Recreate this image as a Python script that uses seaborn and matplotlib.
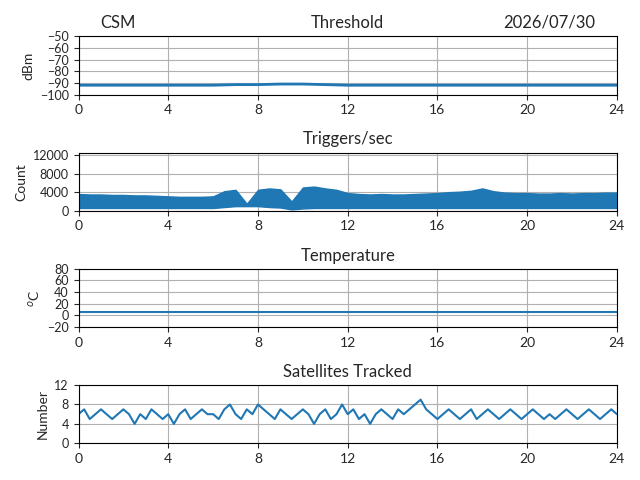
import numpy as np
import matplotlib
matplotlib.use("Agg")
import matplotlib.pyplot as plt
import seaborn as sns

sns.set_style("ticks")
plt.rcParams['font.family'] = ['Lato', 'DejaVu Sans']
plt.rcParams['mathtext.fontset'] = 'dejavusans'
plt.rcParams['axes.unicode_minus'] = True
plt.rcParams['ytick.labelsize'] = 9
plt.rcParams['xtick.labelsize'] = 10

# threshold (dBm), hourly
thr_hours = list(range(25))
thr_vals = [-92, -92, -92, -92, -92, -92, -92, -91.5, -91.5, -91, -91, -91.5, -92, -92, -92,
            -92, -92, -92, -92, -92, -92, -92, -92, -92, -92]

# triggers/sec envelope, every half hour
trig_hours = [i * 0.5 for i in range(49)]
trig_high = [3600, 3500, 3500, 3400, 3400, 3300, 3300, 3200, 3100, 3000, 3000, 3000, 3100,
             4200, 4500, 1500, 4500, 4800, 4600, 2000, 5000, 5200, 4800, 4500, 3800, 3600,
             3500, 3600, 3500, 3500, 3600, 3700, 3800, 4000, 4100, 4300, 4800, 4200, 3900,
             3800, 3800, 3700, 3700, 3800, 3700, 3800, 3800, 3900, 3900]
trig_low = [600, 600, 600, 600, 600, 600, 600, 600, 600, 600, 600, 600, 600,
            800, 1000, 1000, 1000, 800, 700, 300, 500, 600, 600, 600, 600, 600,
            600, 600, 600, 600, 600, 600, 600, 600, 600, 600, 600, 600, 600,
            600, 600, 600, 600, 600, 600, 600, 600, 600, 600]

# temperature (C), hourly
temp_hours = list(range(25))
temp_vals = [5] * 25

# satellites tracked, every quarter hour
sat_hours = [i * 0.25 for i in range(97)]
sat_vals = [6, 7, 5, 6, 7, 6, 5, 6, 7, 6, 4, 6, 5, 7, 6, 5, 6, 4, 6, 7, 5, 6, 7, 6, 6,
            5, 7, 8, 6, 5, 7, 6, 8, 7, 6, 5, 7, 6, 5, 6, 7, 6, 4, 6, 7, 5, 6, 8, 6,
            7, 5, 6, 4, 6, 7, 6, 5, 7, 6, 7, 8, 9, 7, 6, 5, 6, 7, 6, 5, 6, 7, 5, 6,
            7, 6, 5, 6, 7, 6, 5, 6, 7, 6, 5, 6, 5, 6, 7, 6, 5, 6, 7, 6, 5, 6, 7, 6]

fig, axes = plt.subplots(4, 1, figsize=(6.4, 4.8), dpi=100)
c = "#1f77b4"

ax = axes[0]
sns.lineplot(x=thr_hours, y=thr_vals, ax=ax, color=c, linewidth=2)
ax.set_ylim(-100, -50)
ax.set_yticks(range(-100, -49, 10))
ax.set_ylabel("dBm")
ax.set_title("Threshold")
ax.set_title("CSM", loc="left", x=0.04)
ax.set_title("2026/07/30", loc="right", x=0.96)

ax = axes[1]
ax.fill_between(trig_hours, trig_low, trig_high, color=c, linewidth=1)
ax.set_ylim(0, 12500)
ax.set_yticks(range(0, 12001, 4000))
ax.set_ylabel("Count")
ax.set_title("Triggers/sec")

ax = axes[2]
sns.lineplot(x=temp_hours, y=temp_vals, ax=ax, color=c, linewidth=1.5)
ax.set_ylim(-20, 80)
ax.set_yticks(range(-20, 81, 20))
ax.set_ylabel("$^o$C")
ax.set_title("Temperature")

ax = axes[3]
sns.lineplot(x=sat_hours, y=sat_vals, ax=ax, color=c, linewidth=1.5)
ax.set_ylim(0, 12)
ax.set_yticks(range(0, 13, 4))
ax.set_ylabel("Number")
ax.set_title("Satellites Tracked")

for ax in axes:
    ax.set_xlim(0, 24)
    ax.set_xticks(range(0, 25, 4))
    ax.grid(True, color="#b0b0b0", linewidth=0.8)
    ax.set_axisbelow(True)
    for s in ax.spines.values():
        s.set_visible(True)
        s.set_color("black")

fig.tight_layout()
fig.savefig("out.png")
